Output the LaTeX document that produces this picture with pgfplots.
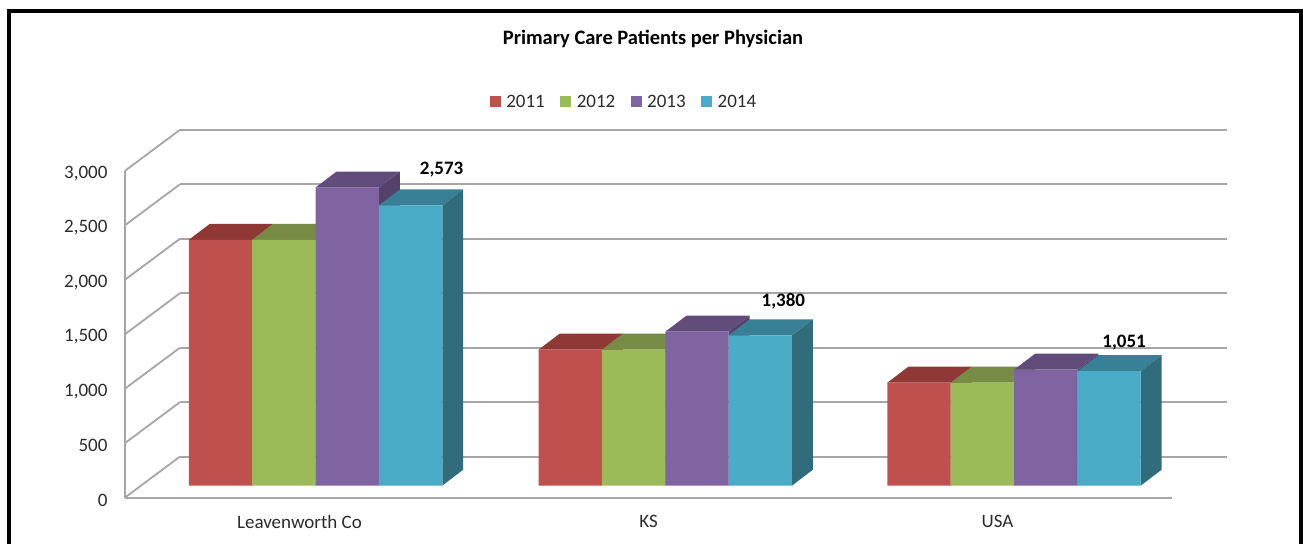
\documentclass[border=0pt]{standalone}
\usepackage{fontspec}
\setmainfont{Carlito}
\usepackage{pgfplots}
\pgfplotsset{compat=1.18}

\definecolor{redfront}{HTML}{C0504D}
\definecolor{redtop}{HTML}{8F3835}
\definecolor{redside}{HTML}{7F2F2D}
\definecolor{greenfront}{HTML}{9BBB59}
\definecolor{greentop}{HTML}{768B43}
\definecolor{greenside}{HTML}{5F7236}
\definecolor{purplefront}{HTML}{8064A2}
\definecolor{purpletop}{HTML}{614C7B}
\definecolor{purpleside}{HTML}{54416C}
\definecolor{bluefront}{HTML}{4AABC7}
\definecolor{bluetop}{HTML}{388096}
\definecolor{blueside}{HTML}{316C7D}
\definecolor{gridgray}{HTML}{A6A6A6}
\definecolor{labelgray}{HTML}{2B2B2B}

% top and side face of one bar: left edge, value, top colour, side colour
% 110.1 = 12px lift of the bar plane, 146.8 = 16px depth rise, 21 = depth run
\newcommand{\barfaces}[4]{%
  \pgfmathsetmacro\xa{#1+63.4}%
  \pgfmathsetmacro\xb{#1+84.4}%
  \pgfmathsetmacro\xc{#1+21}%
  \pgfmathsetmacro\ya{#2+110.1}%
  \pgfmathsetmacro\yb{#2+256.9}%
  \addplot[forget plot, draw=none, fill=#3] coordinates {(#1,\ya) (\xa,\ya) (\xb,\yb) (\xc,\yb)};
  \addplot[forget plot, draw=none, fill=#4] coordinates {(\xa,110.1) (\xb,256.9) (\xb,\yb) (\xa,\ya)};
}

\pgfplotsset{
  front/.style={ybar, bar width=63.4pt, draw=none, yshift=12pt,
    legend image code/.code={\fill[##1] (0pt,-17pt) rectangle (11pt,-6pt);}},
  wall/.style={forget plot, color=gridgray, line width=1.8pt},
}

\begin{document}
\begin{tikzpicture}
\begin{axis}[
  scale only axis,
  width=1048pt, height=327pt,
  xmin=125, xmax=1173, ymin=0, ymax=3000,
  clip=false,
  axis x line=bottom, axis y line=left,
  axis line style={-, color=gridgray, line width=1.8pt},
  major tick length=0pt,
  xtick={299.7,649,998.3},
  xticklabels={Leavenworth Co,KS,USA},
  ytick={0,500,1000,1500,2000,2500,3000},
  scaled y ticks=false,
  /pgf/number format/.cd, 1000 sep={,}, assume math mode=true, /pgfplots/.cd,
  tick label style={font=\fontsize{19}{22}\selectfont, text=labelgray},
  yticklabel style={xshift=-14pt, yshift=-2.5pt},
  xticklabel style={yshift=-14pt},
  title={Primary Care Patients per Physician},
  title style={font=\fontsize{20.5}{22}\selectfont\bfseries, at={(rel axis cs:0.5043,1.3856)}, anchor=center},
  legend style={draw=none, fill=none, at={(rel axis cs:0.4766,1.2108)}, anchor=center,
    font=\fontsize{19}{22}\selectfont, text=labelgray, legend columns=4,
    /tikz/every even column/.append style={column sep=13.5pt},
    /tikz/every odd column/.append style={column sep=3.5pt}},
]
% page corners, frame
\addplot[forget plot, draw=none] coordinates {(0,-422) (1303,-422) (1303,4568.8) (0,4568.8)};
\addplot[forget plot, color=black, line width=4pt] coordinates {(8.7,-422) (8.7,4468) (1302,4468) (1302,-422)};

% side wall and back wall
\addplot[wall] coordinates {(125,0) (180,376.1)};
\addplot[wall] coordinates {(125,500) (180,876.1)};
\addplot[wall] coordinates {(125,1000) (180,1376.1)};
\addplot[wall] coordinates {(125,1500) (180,1876.1)};
\addplot[wall] coordinates {(125,2000) (180,2376.1)};
\addplot[wall] coordinates {(125,2500) (180,2876.1)};
\addplot[wall] coordinates {(125,3000) (180,3376.1)};
\addplot[wall] coordinates {(180,376.1) (1228,376.1)};
\addplot[wall] coordinates {(180,876.1) (1228,876.1)};
\addplot[wall] coordinates {(180,1376.1) (1228,1376.1)};
\addplot[wall] coordinates {(180,1876.1) (1228,1876.1)};
\addplot[wall] coordinates {(180,2376.1) (1228,2376.1)};
\addplot[wall] coordinates {(180,2876.1) (1228,2876.1)};
\addplot[wall] coordinates {(180,3376.1) (1228,3376.1)};

% 2011
\barfaces{189}{2257}{redtop}{redside}
\barfaces{539}{1248}{redtop}{redside}
\barfaces{888}{945}{redtop}{redside}
\addplot[front, fill=redfront, bar shift=-95.1pt] coordinates {(315.8,2257) (665.8,1248) (1014.8,945)};
\addlegendentry{2011}
% 2012
\barfaces{252.4}{2257}{greentop}{greenside}
\barfaces{602.4}{1248}{greentop}{greenside}
\barfaces{951.4}{945}{greentop}{greenside}
\addplot[front, fill=greenfront, bar shift=-31.7pt] coordinates {(315.8,2257) (665.8,1248) (1014.8,945)};
\addlegendentry{2012}
% 2013
\barfaces{315.8}{2737}{purpletop}{purpleside}
\barfaces{665.8}{1413}{purpletop}{purpleside}
\barfaces{1014.8}{1064}{purpletop}{purpleside}
\addplot[front, fill=purplefront, bar shift=31.7pt] coordinates {(315.8,2737) (665.8,1413) (1014.8,1064)};
\addlegendentry{2013}
% 2014
\barfaces{379.2}{2573}{bluetop}{blueside}
\barfaces{729.2}{1380}{bluetop}{blueside}
\barfaces{1078.2}{1051}{bluetop}{blueside}
\addplot[front, fill=bluefront, bar shift=95.1pt] coordinates {(315.8,2573) (665.8,1380) (1014.8,1051)};
\addlegendentry{2014}

\node[font=\fontsize{19}{22}\selectfont\bfseries] at (axis cs:442,3010) {2,573};
\node[font=\fontsize{19}{22}\selectfont\bfseries] at (axis cs:784,1807) {1,380};
\node[font=\fontsize{19}{22}\selectfont\bfseries] at (axis cs:1125,1422) {1,051};
\end{axis}
\end{tikzpicture}
\end{document}
